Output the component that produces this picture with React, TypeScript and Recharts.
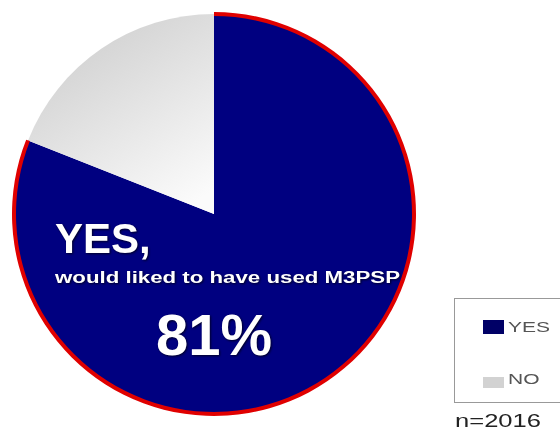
import { PieChart, Pie, Cell, Legend } from "recharts";

const LABELS = ["YES", "NO"];
const SHARES = [81, 19];
const FILLS = ["#000080", "url(#noGrad)"];
const SWATCHES = ["#000066", "#d2d2d2"];
const RING = ["#e00000", "none"];
const SAMPLE = "n=2016";

const data = LABELS.map((name, i) => ({ name, value: SHARES[i] }));

const shadow = { filter: "drop-shadow(1px 1px 1px rgba(0,0,0,0.7))" };

function renderLabel(props: any) {
  const { cx, cy, index } = props;
  if (index !== 0) return null;
  return (
    <g style={{ fontFamily: "Arial, 'Liberation Sans', sans-serif", fontWeight: 700 }} fill="#fff">
      <text x={cx - 159} y={cy + 39} fontSize={42} fill="#fff" style={shadow}>
        {data[0].name},
      </text>
      <text
        x={cx - 159}
        y={cy + 69}
        fontSize={16}
        fill="#fff"
        textLength={345}
        lengthAdjust="spacingAndGlyphs"
        style={shadow}
      >
        would liked to have used M3PSP
      </text>
      <text x={cx} y={cy + 141} fontSize={58} textAnchor="middle" fill="#fff" style={shadow}>
        {data[0].value}%
      </text>
    </g>
  );
}

function LegendBox() {
  const rows = [
    { top: 22, h: 14, textTop: 20 },
    { top: 79, h: 11, textTop: 72 },
  ];
  return (
    <div style={{ fontFamily: "Arial, 'Liberation Sans', sans-serif", position: "relative", width: 130, height: 140 }}>
      <div
        style={{
          position: "absolute",
          left: 0,
          top: 0,
          width: 120,
          height: 105,
          border: "1px solid #999",
          boxSizing: "border-box",
        }}
      />
      {LABELS.map((l, i) => (
        <div key={l}>
          <span
            style={{
              position: "absolute",
              left: 29,
              top: rows[i].top,
              width: 21,
              height: rows[i].h,
              background: SWATCHES[i],
            }}
          />
          <span
            style={{
              position: "absolute",
              left: 54,
              top: rows[i].textTop,
              fontSize: 15,
              lineHeight: "17px",
              color: "#555",
              transform: "scaleX(1.4)",
              transformOrigin: "left",
            }}
          >
            {l}
          </span>
        </div>
      ))}
      <div
        style={{
          position: "absolute",
          left: 1,
          top: 113,
          fontSize: 18,
          lineHeight: "20px",
          color: "#222",
          transform: "scaleX(1.42)",
          transformOrigin: "left",
        }}
      >
        {SAMPLE}
      </div>
    </div>
  );
}

export default function App() {
  return (
    <div style={{ position: "absolute", left: 0, top: 0, width: 560, height: 440, background: "#fff", overflow: "hidden" }}>
      <PieChart width={560} height={440} margin={{ top: 0, right: 0, bottom: 0, left: 0 }}>
        <defs>
          <linearGradient id="noGrad" x1="0.2" y1="0" x2="0.8" y2="1">
            <stop offset="0%" stopColor="#cccccc" />
            <stop offset="100%" stopColor="#fbfbfb" />
          </linearGradient>
        </defs>
        <Pie
          data={data}
          dataKey="value"
          nameKey="name"
          cx={214}
          cy={214}
          outerRadius={200}
          startAngle={90}
          endAngle={-270}
          stroke="none"
          label={renderLabel}
          labelLine={false}
          isAnimationActive={false}
        >
          {data.map((d, i) => (
            <Cell key={d.name} fill={FILLS[i]} />
          ))}
        </Pie>
        <Pie
          data={data}
          dataKey="value"
          cx={214}
          cy={214}
          innerRadius={198}
          outerRadius={202}
          startAngle={90}
          endAngle={-270}
          stroke="none"
          isAnimationActive={false}
          legendType="none"
        >
          {data.map((d, i) => (
            <Cell key={d.name} fill={RING[i]} />
          ))}
        </Pie>
        <Legend content={<LegendBox />} wrapperStyle={{ left: 454, top: 298, width: 130 }} />
      </PieChart>
    </div>
  );
}
